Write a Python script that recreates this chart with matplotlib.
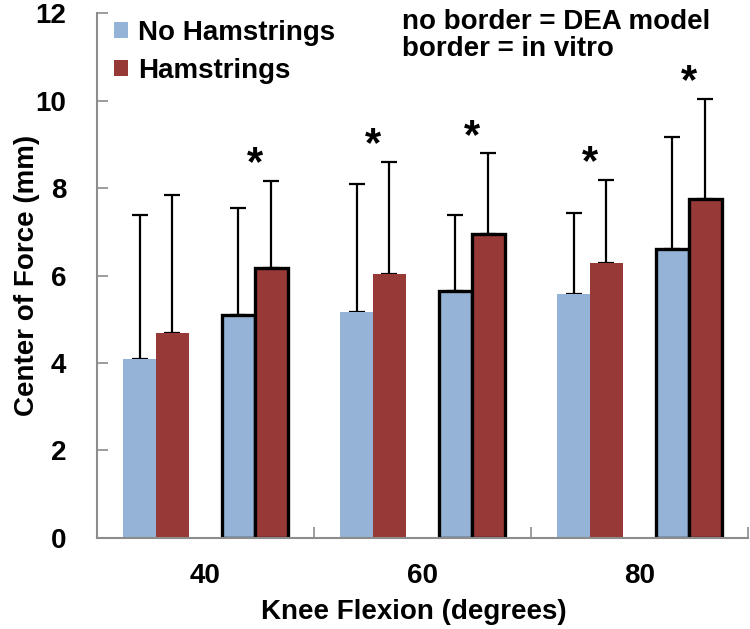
import matplotlib
matplotlib.use("Agg")
from matplotlib import pyplot as plt
from matplotlib.patches import Patch
import numpy as np

plt.rcParams['font.family'] = ['Liberation Sans', 'DejaVu Sans']
plt.rcParams['font.weight'] = 'bold'

# ---- data ---- #
angles = ['40', '60', '80']

dea_no_ham = [4.08, 5.16, 5.58]
dea_no_ham_sd = [3.30, 2.94, 1.86]
dea_ham = [4.68, 6.03, 6.28]
dea_ham_sd = [3.16, 2.56, 1.90]

vitro_no_ham = [5.10, 5.65, 6.60]
vitro_no_ham_sd = [2.45, 1.74, 2.57]
vitro_ham = [6.18, 6.96, 7.74]
vitro_ham_sd = [1.99, 1.83, 2.29]

# significance markers (* above each pair)
sig_dea = [False, True, True]
sig_vitro = [True, True, True]

blue = '#95B3D7'
red = '#973A37'
axis_grey = '#8c8c8c'

# ------------------------------ #

fig = plt.figure(figsize=(7.5, 6.29), dpi=100)
ax = fig.add_axes([0.1293, 0.1447, 0.868, 0.8346])

x = np.arange(len(angles))
w = 0.152

series = [
    (x - 2 * w, dea_no_ham, dea_no_ham_sd, blue, False),
    (x - w, dea_ham, dea_ham_sd, red, False),
    (x + w, vitro_no_ham, vitro_no_ham_sd, blue, True),
    (x + 2 * w, vitro_ham, vitro_ham_sd, red, True),
]

for pos, vals, sd, col, border in series:
    ax.errorbar(pos, vals, yerr=[np.zeros(len(vals)), sd], fmt='none',
                ecolor='black', elinewidth=1.6, capsize=6, capthick=1.6, zorder=1)
    if border:
        ax.bar(pos, vals, width=w, color=col, edgecolor='black', linewidth=2.4, zorder=2)
    else:
        ax.bar(pos, vals, width=w, color=col, linewidth=0, zorder=2)

# asterisks
for i in range(len(angles)):
    if sig_dea[i]:
        top = max(dea_no_ham[i] + dea_no_ham_sd[i], dea_ham[i] + dea_ham_sd[i])
        ax.text(x[i] - 1.5 * w, top + 0.38, '*', ha='center', va='center', fontsize=30)
    if sig_vitro[i]:
        top = max(vitro_no_ham[i] + vitro_no_ham_sd[i], vitro_ham[i] + vitro_ham_sd[i])
        ax.text(x[i] + 1.5 * w, top + 0.38, '*', ha='center', va='center', fontsize=30)

ax.set_xlim(-0.5, 2.5)
ax.set_ylim(0, 12)
ax.set_yticks(range(0, 13, 2))
ax.set_xticks(x)
ax.set_xticklabels(angles)
ax.set_xticks([0.5, 1.5, 2.5], minor=True)

ax.tick_params(axis='x', which='major', length=0, pad=18, labelsize=20)
ax.tick_params(axis='x', which='minor', direction='in', length=8, width=1.2, color=axis_grey)
ax.tick_params(axis='y', direction='in', length=8, width=1.2, color=axis_grey, pad=22, labelsize=20)

for s in ['top', 'right']:
    ax.spines[s].set_visible(False)
for s in ['left', 'bottom']:
    ax.spines[s].set_color(axis_grey)
    ax.spines[s].set_linewidth(1.5)

ax.set_xlabel('Knee Flexion (degrees)', fontsize=20, fontweight='bold')
ax.set_ylabel('Center of Force (mm)', fontsize=20, fontweight='bold')
ax.xaxis.set_label_coords(0.487, -0.141)
ax.yaxis.set_label_coords(-0.108, 0.5)
ax.xaxis.label.set_va('center')
ax.yaxis.label.set_va('center')

handles = [Patch(facecolor=blue, label='No Hamstrings'), Patch(facecolor=red, label='Hamstrings')]
ax.legend(handles=handles, loc='upper left', bbox_to_anchor=(-0.012, 1.035), frameon=False,
          fontsize=20, handlelength=0.5, handleheight=0.5, handletextpad=0.35, labelspacing=0.45)

ax.text(0.468, 1.008, 'no border = DEA model\nborder = in vitro', transform=ax.transAxes,
        ha='left', va='top', fontsize=20, fontweight='bold', linespacing=1.05)

fig.savefig('out.png', dpi=100)
